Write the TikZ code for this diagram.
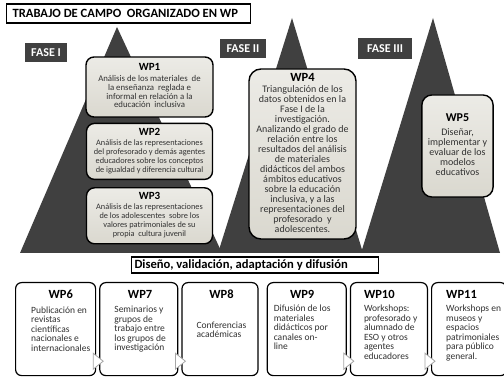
\documentclass[tikz,border=0pt]{standalone}
\usepackage{fontspec}
\setmainfont{Carlito}
\usetikzlibrary{positioning}
\definecolor{gris}{RGB}{64,64,64}
\definecolor{caja}{RGB}{218,216,207}
\definecolor{cajaclara}{RGB}{236,235,230}
\definecolor{texto}{RGB}{50,50,50}
\tikzstyle{every picture}=[x=1pt, y=-1pt, node distance=5pt]
\tikzstyle{piramide}=[fill=gris]
\tikzstyle{fase}=[fill=gris, text=white, inner sep=0pt, font=\fontsize{12}{12}\selectfont\bfseries]
\tikzstyle{rotulo}=[draw=black, line width=1.1pt, fill=white, inner ysep=0pt, anchor=west]
\tikzstyle{wp}=[draw=black, line width=1.4pt, rounded corners=8pt, top color=cajaclara,
	bottom color=caja, inner sep=0pt, text=texto]
\tikzstyle{abajo}=[draw=black, line width=1.2pt, rounded corners=6pt, fill=white, minimum height=93pt, inner sep=0pt]
\tikzstyle{cuerpo}=[inner sep=0pt, anchor=north west, text=texto, font=\fontsize{9.5}{9.5}\selectfont]
\tikzstyle{flecha}=[draw=gray!70, fill=white, line width=0.8pt]
\newcommand{\wpt}[2]{{\fontsize{#1}{#1}\selectfont\bfseries\color{black}#2}}

\begin{document}
\begin{tikzpicture}
\useasboundingbox (0,0) rectangle (504,377);
% piramides de las tres fases
\fill[piramide] (117,27) -- (20,253) -- (222,253) -- cycle;
\fill[piramide] (292,18) -- (218,253) -- (363,253) -- cycle;
\fill[piramide] (433,18) -- (361,253) -- (500,253) -- cycle;

\node[rotulo, inner xsep=4pt, minimum height=19pt, font=\fontsize{12.6}{13}\selectfont\bfseries]
	(titulo) at (6,13.5) {\makebox[236pt][l]{\hspace*{2pt}TRABAJO DE CAMPO\ \ ORGANIZADO EN WP}};
\node[fase, minimum width=42pt, minimum height=19pt] (fase1) at (46,52.5) {FASE I};
\node[fase, minimum width=46pt, minimum height=19pt] (fase2) at (243,48.5) {FASE II};
\node[fase, minimum width=54pt, minimum height=21pt] (fase3) at (385,48.5) {FASE III};

% fase I
\node[wp, minimum width=127pt, minimum height=60pt, font=\fontsize{8.8}{8.8}\selectfont]
	(wp1) at (149.5,87) {\begin{tabular}{c}\wpt{11}{WP1}\\[2pt]
	Análisis de los materiales\ \ de\\ la enseñanza\ \ reglada e\\
	informal en relación a la\\ educación\ \ inclusiva\end{tabular}};
\node[wp, minimum width=126pt, minimum height=56pt, font=\fontsize{8.3}{9}\selectfont,
	below=5pt of wp1] (wp2) {\begin{tabular}{c}\wpt{11}{WP2}\\[1pt]
	Análisis de las representaciones\\ del profesorado y demás agentes\\
	educadores sobre los conceptos\\ de igualdad y diferencia cultural\end{tabular}};
\node[wp, minimum width=126pt, minimum height=56pt, font=\fontsize{8.3}{9}\selectfont,
	below=7pt of wp2] (wp3) {\begin{tabular}{c}\wpt{11}{WP3}\\[1pt]
	Análisis de las representaciones\\ de los adolescentes\ \ sobre los\\
	valores patrimoniales de su\\ propia\ \ cultura juvenil\end{tabular}};

% fase II
\node[wp, rounded corners=12pt, minimum width=107pt, minimum height=170pt,
	font=\fontsize{10}{10}\selectfont] (wp4) at (302.5,154) {\begin{tabular}{c}\wpt{12.5}{WP4}\\[1pt]
	Triangulación de los\\ datos obtenidos en la\\ Fase I de la\\ investigación.\\
	Analizando el grado de\\ relación entre los\\ resultados del análisis\\
	de materiales\\ didácticos del ambos\\ ámbitos educativos\\ sobre la educación\\
	inclusiva, y a las\\ representaciones del\\ profesorado\ \ y\\ adolescentes.\end{tabular}};

% fase III
\node[wp, rounded corners=10pt, minimum width=71pt, minimum height=102pt,
	font=\fontsize{10}{10}\selectfont] (wp5) at (457.5,146) {\begin{tabular}{c}\wpt{12}{WP5}\\[4pt]
	Diseñar,\\ implementar y\\ evaluar de los\\ modelos\\ educativos\end{tabular}};

\node[rotulo, inner xsep=3pt, minimum height=16pt, font=\fontsize{12.6}{13}\selectfont\bfseries]
	(difusion) at (131,265) {\makebox[241pt][l]{Diseño, validación, adaptación y difusión}};

% difusion
\node[abajo, minimum width=80pt, anchor=north west] (wp6) at (15,282) {};
\node[abajo, minimum width=78pt, right=3pt of wp6] (wp7) {};
\node[abajo, minimum width=76pt, right=3pt of wp7] (wp8) {};
\node[abajo, minimum width=79pt, right=8pt of wp8] (wp9) {};
\node[abajo, minimum width=77pt, right=3pt of wp9] (wp10) {};
\node[abajo, minimum width=75pt, right=3pt of wp10] (wp11) {};

\node[cuerpo] (t6) at ([xshift=16pt,yshift=-8pt]wp6.north west) {\begin{tabular}{@{}l@{}}
	\multicolumn{1}{@{}c@{}}{\wpt{12.5}{WP6}}\\[5pt] Publicación en\\ revistas\\
	científicas\\ nacionales e\\ internacionales\end{tabular}};
\node[cuerpo] (t7) at ([xshift=15pt,yshift=-8pt]wp7.north west) {\begin{tabular}{@{}l@{}}
	\multicolumn{1}{@{}c@{}}{\wpt{12.5}{WP7}}\\[5pt] Seminarios y\\ grupos de\\
	trabajo entre\\ los grupos de\\ investigación\end{tabular}};
\node[cuerpo] (t8) at ([xshift=15pt,yshift=-8pt]wp8.north west) {\begin{tabular}{@{}l@{}}
	\multicolumn{1}{@{}c@{}}{\wpt{12.5}{WP8}}\\[20pt] Conferencias\\ académicas\end{tabular}};
\node[cuerpo] (t9) at ([xshift=7pt,yshift=-8pt]wp9.north west) {\begin{tabular}{@{}l@{}}
	\multicolumn{1}{@{}c@{}}{\wpt{12.5}{WP9}}\\[4pt] Difusión de los\\ materiales\\
	didácticos por\\ canales on-\\ line\end{tabular}};
\node[cuerpo] (t10) at ([xshift=14pt,yshift=-8pt]wp10.north west) {\begin{tabular}{@{}l@{}}
	\wpt{12.5}{WP10}\\[4pt] Workshops:\\ profesorado y\\ alumnado de\\
	ESO y otros\\ agentes\\ educadores\end{tabular}};
\node[cuerpo] (t11) at ([xshift=15pt,yshift=-8pt]wp11.north west) {\begin{tabular}{@{}l@{}}
	\wpt{12.5}{WP11}\\[4pt] Workshops en\\ museos y\\ espacios\\
	patrimoniales\\ para público\\ general.\end{tabular}};

\foreach \a in {wp6,wp7,wp9,wp10}
	\path[flecha] ([xshift=-3pt,yshift=23pt]\a.south east) -- ++(10,8) -- ++(-10,8) -- cycle;
\end{tikzpicture}
\end{document}
